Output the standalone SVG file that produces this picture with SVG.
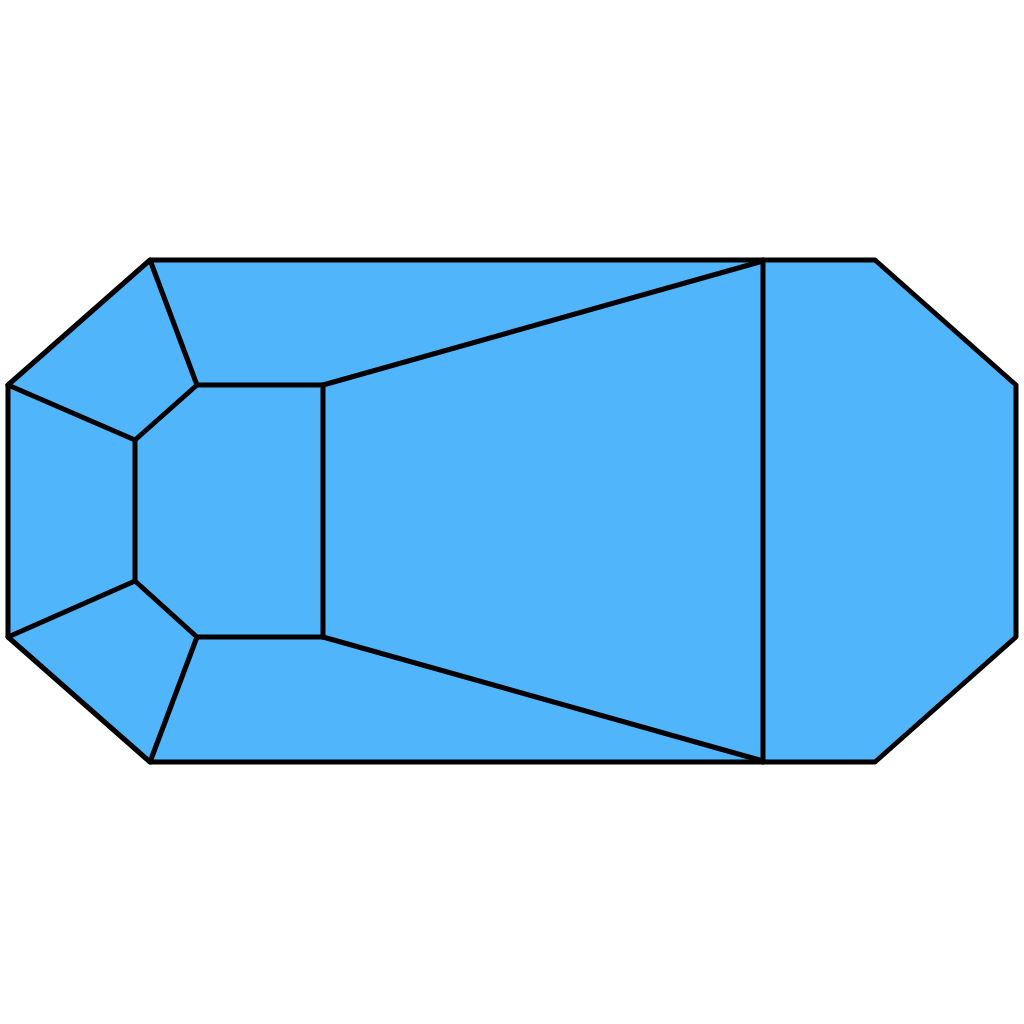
<svg xmlns="http://www.w3.org/2000/svg" width="1024" height="1024" viewBox="0 0 1024 1024">
<style>
.s{stroke:#000;stroke-width:5;stroke-linejoin:round;stroke-linecap:round;fill:none}
.f{fill:#50B5FB}
</style>
<rect width="1024" height="1024" fill="#fff"/>
<polygon class="f s" points="150,260 875,260 1016,385 1016,637 875,762 150,762 8,637 8,385"/>
<polygon class="s" points="197,385 323,385 323,637 197,637 135,581 135,440"/>
<g class="s">
<line x1="150" y1="260" x2="197" y2="385"/>
<line x1="8" y1="385" x2="135" y2="440"/>
<line x1="8" y1="637" x2="135" y2="581"/>
<line x1="150" y1="762" x2="197" y2="637"/>
<line x1="323" y1="385" x2="763" y2="261"/>
<line x1="323" y1="637" x2="763" y2="761"/>
<line x1="763" y1="260" x2="763" y2="762"/>
</g>
</svg>
